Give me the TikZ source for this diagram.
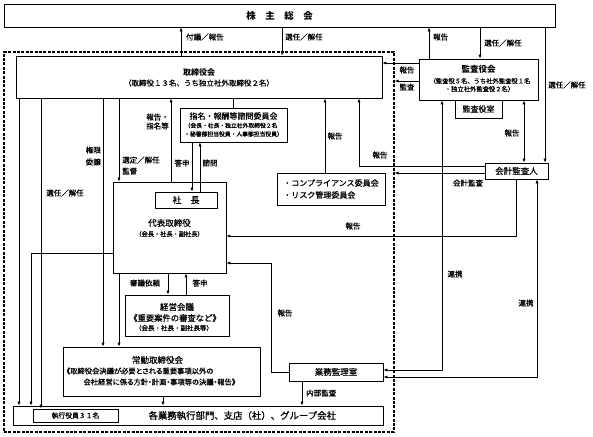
\documentclass[tikz,border=0pt]{standalone}
\usepackage{fontspec}
\setmainfont{Noto Sans CJK JP}[UprightFeatures={FakeBold=0.8}]
\newfontfamily\pfont[RawFeature=+palt, FakeBold=0.8]{Noto Sans CJK JP}
\usetikzlibrary{arrows.meta}
\newcommand{\fsz}[1]{\fontsize{#1}{#1}\selectfont}
\tikzset{
  box/.style={draw, line width=0.8pt, inner sep=0pt, align=center},
  grpbox/.style={draw, line width=1.3pt, dash pattern=on 3pt off 1.4pt, inner sep=0pt},
  lbl/.style={font=\fontsize{7.5}{9}\selectfont, inner sep=0pt},
  con/.style={line width=0.75pt},
  arr/.style={con, -{Latex[length=4pt,width=3.2pt]}},
  dbl/.style={con, {Latex[length=4pt,width=3.2pt]}-{Latex[length=4pt,width=3.2pt]}},
}

\begin{document}
\begin{tikzpicture}[x=1pt,y=-1pt]
\useasboundingbox (0,0) rectangle (593,436);

% columns and rows for the connectors
\foreach \v in {19,31,41,103,119,163,168,171,181,186,192,200,271,282,302,325,359,429,442,480,516,524,537,545}
  \coordinate (x\v) at (\v,0);
\foreach \v in {63,81,166,173,236,253,263,370,377}
  \coordinate (y\v) at (0,\v);

% the executive group
\node[grpbox, minimum width=390pt, minimum height=380pt] (grp) at (199,242) {};

\node[box, minimum width=551pt, minimum height=23pt, font=\bfseries\fsz{9.5}] (gm) at (279.5,15.5) {株　主　総　会};

\node[box, minimum width=366pt, minimum height=42pt] (board) at (199,77) {};
\node[font=\bfseries\fsz{8}] (boardT) at (199,72) {取締役会};
\node[font=\fsz{7.5}] (boardS) at (199,83) {（取締役１３名、うち独立社外取締役２名）};

\node[box, minimum width=119pt, minimum height=41pt] (audit) at (478.5,79.5) {};
\node[font=\bfseries\fsz{8.5}] (auditT) at (478.5,69) {監査役会};
\node[font=\fsz{6.3}] (auditS1) at (480,81) {（監査役５名、うち社外監査役１名};
\node[font=\fsz{6.3}] (auditS2) at (479.5,89) {・独立社外監査役２名）};
\node[box, minimum width=47pt, minimum height=18pt, font=\fsz{8}] (aroom) at (478.5,109) {監査役室};
\node[box, minimum width=63pt, minimum height=16pt, font=\fsz{8.5}] (acct) at (516.5,171) {会計監査人};

\node[box, minimum width=107pt, minimum height=34pt] (nom) at (233.5,125) {};
\node[font=\fsz{8}] (nomT) at (233.5,116) {指名・報酬等諮問委員会};
\node[font=\fsz{5.8}] (nomS1) at (231,125.5) {（会長・社長・独立社外取締役２名};
\node[font=\fsz{5.8}] (nomS2) at (233.5,134) {・秘書部担当役員・人事部担当役員）};

\node[box, minimum width=108pt, minimum height=32pt, align=left, font=\fontsize{8}{12}\selectfont] (comp) at (331,189) {・コンプライアンス委員会\\・リスク管理委員会};

\node[box, minimum width=113pt, minimum height=91pt] (rep) at (169.5,227.5) {};
\node[box, minimum width=62pt, minimum height=16pt, font=\fsz{9}] (pres) at (186,200) {社　長};
\node[font=\fsz{8.5}] (repT) at (169.5,223) {代表取締役};
\node[font=\fsz{6.2}] (repS) at (169.5,234) {（会長・社長・副社長）};

\node[box, minimum width=104pt, minimum height=41pt] (mgmt) at (177,315.5) {};
\node[font=\fsz{8.5}] (mgmtT) at (177,307) {経営会議};
\node[font=\fsz{8.3}] (mgmtS1) at (175,318) {《重要案件の審査など》};
\node[font=\fsz{6.5}] (mgmtS2) at (174,328) {（会長・社長・副社長等）};

\node[box, minimum width=197pt, minimum height=49pt] (full) at (161.5,371.5) {};
\node[font=\fsz{8.5}] (fullT) at (157.5,360) {常勤取締役会};
\node[font=\pfont\fsz{7.3}, anchor=west] (fullS1) at (63,371) {《取締役会決議が必要とされる重要事項以外の};
\node[font=\pfont\fsz{7.3}, anchor=west] (fullS2) at (80,382) {会社経営に係る方針・計画・事項等の決議・報告》};

\node[box, minimum width=94pt, minimum height=18pt, font=\fsz{8.5}] (iad) at (336,372) {業務監理室};

\node[box, minimum width=370pt, minimum height=19pt] (ops) at (198,415.5) {};
\node[box, minimum width=85pt, minimum height=13pt, font=\fsz{6.8}] (exec) at (75.5,415.5) {執行役員３１名};
\node[font=\fsz{9.4}, anchor=west] (opsT) at (145,415.5) {各業務執行部門、支店（社）、グループ会社};

% shareholders
\draw[arr] (board.north -| x181) -- (gm.south -| x181);
\draw[arr] (gm.south -| x282) -- (board.north -| x282);
\draw[arr] (audit.north -| x429) -- (gm.south -| x429);
\draw[arr] (gm.south -| x480) -- (audit.north -| x480);
\draw[arr] (gm.south -| x545) -- (acct.north -| x545);
\node[lbl, anchor=west] (l1) at (186,37) {付議／報告};
\node[lbl, anchor=west] (l2) at (285,37) {選任／解任};
\node[lbl, anchor=west] (l3) at (433,37) {報告};
\node[lbl, anchor=west] (l4) at (484,43) {選任／解任};
\node[lbl, anchor=west] (l5) at (548,85) {選任／解任};

% audit side
\draw[arr] (audit.west |- y63) -- (board.east |- y63);
\draw[arr] (audit.west |- y81) -- (grp.east |- y81);
\draw[dbl] (audit.south -| x524) -- (acct.north -| x524);
\draw[arr] (acct.west |- y173) -- (grp.east |- y173);
\draw[arr] (acct.west |- y166) -| (board.south -| x359);
\draw[arr] (comp.north -| x325) -- (board.south -| x325);
\draw[dbl] (audit.south -| x442) |- (iad.east |- y370);
\draw[dbl] (acct.south -| x537) |- (iad.east |- y377);
\draw[arr] (acct.south -| x516) |- (rep.east |- y236);
\draw[arr] (iad.west |- 0,372) -| (x271 |- y263) -- (rep.east |- y263);
\draw[arr] (iad.south -| x302) -- (ops.north -| x302);
\node[lbl] (l6) at (407,70) {報告};
\node[lbl] (l7) at (407,87) {監査};
\node[lbl] (l8) at (512,133) {報告};
\node[lbl] (l9) at (468,183) {会計監査};
\node[lbl] (l10) at (380,155) {報告};
\node[lbl] (l11) at (335,136) {報告};
\node[lbl] (l12) at (455,274) {連携};
\node[lbl] (l13) at (526,303) {連携};
\node[lbl] (l14) at (353,226) {報告};
\node[lbl] (l15) at (285,313) {報告};
\node[lbl, anchor=west] (l16) at (306,393) {内部監査};

% board and executives
\draw[con] (board.south -| nom.north) -- (nom.north);
\draw[arr] (nom.south -| x192) -- (pres.north -| x192);
\draw[arr] (pres.north -| x200) -- (nom.south -| x200);
\draw[arr] (rep.north -| x171) -- (board.south -| x171);
\draw[arr] (board.south -| x119) -- (rep.north -| x119);
\draw[arr] (rep.south -| x119) -- (full.north -| x119);
\draw[arr] (board.south -| x103) -- (full.north -| x103);
\draw[arr] (board.south -| x41) -- (exec.north -| x41);
\draw[arr] (board.south -| x19) -- (ops.north -| x19);
\draw[arr] (rep.west |- y253) -| (ops.north -| x31);
\draw[arr] (rep.south -| x168) -- (mgmt.north -| x168);
\draw[arr] (mgmt.north -| x186) -- (rep.south -| x186);
\draw[arr] (full.south -| x163) -- (ops.north -| x163);
\node[lbl, anchor=east, align=right] (l17) at (169,121.5) {報告・\\指名等};
\node[lbl, anchor=west, align=left] (l18) at (122,165.5) {選定／解任\\[2pt]監督};
\node[lbl, anchor=east, align=left] (l19) at (101,156) {権限\\[3pt]委譲};
\node[lbl] (l20) at (65,193) {選任／解任};
\node[lbl] (l21) at (182,163) {答申};
\node[lbl] (l22) at (210,163) {諮問};
\node[lbl] (l23) at (145,283) {審議依頼};
\node[lbl] (l24) at (200,283) {答申};
\end{tikzpicture}
\end{document}
